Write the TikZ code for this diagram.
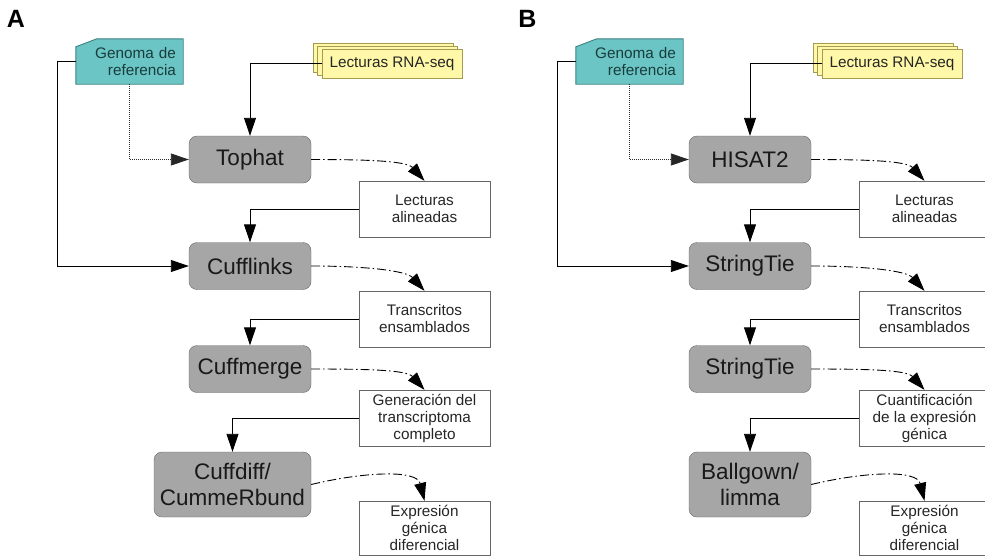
\documentclass[tikz,border=0pt]{standalone}
\usepackage{fontspec}
\setmainfont{Liberation Sans}
\usetikzlibrary{arrows.meta, shadows, backgrounds}
\definecolor{toolfill}{RGB}{166,166,166}
\definecolor{genomefill}{RGB}{108,197,197}
\definecolor{genomeline}{RGB}{60,130,130}
\definecolor{genometext}{RGB}{25,60,60}
\definecolor{readsfill}{RGB}{255,248,168}
\definecolor{readsline}{RGB}{165,155,80}
\begin{document}
\begin{tikzpicture}[
        x=1pt, y=-1pt, % ось y вниз, единица = пиксель
        tip/.style = {-{Triangle[length=18pt, width=12pt]}}, % большая стрелка
        link/.style = {draw, line width=0.9pt, tip}, % сплошные стрелки
        ref/.style = {draw=black!85, line width=0.9pt, dash pattern=on 1pt off 1pt, tip},
        flow/.style = {draw, line width=0.9pt, dash pattern=on 9pt off 3pt on 1.5pt off 3pt, tip},
        tool/.style = {draw=black!60, fill=toolfill, rounded corners=8pt, minimum width=122pt,
                minimum height=47pt, inner sep=0pt, align=center, text=black!90,
                font=\fontsize{22.5}{26}\selectfont}, % программы
        result/.style = {draw=black!60, fill=white, minimum width=131pt, minimum height=56pt,
                inner sep=0pt, align=center, text=black!85, font=\fontsize{15.3}{17}\selectfont},
        genome/.style = {minimum width=107pt, minimum height=45pt, text width=93pt, align=right,
                inner sep=0pt, text=genometext, font=\fontsize{15.3}{17}\selectfont},
        genomebox/.style = {draw=genomeline, fill=genomefill, line width=0.9pt},
        reads/.style = {draw=readsline, fill=readsfill, line width=0.8pt,
                double copy shadow={shadow xshift=-4.5pt, shadow yshift=3pt},
                minimum width=140pt, minimum height=29pt, inner sep=0pt, text=black!85,
                font=\fontsize{15.3}{17}\selectfont},
        panel/.style = {font=\fontsize{25}{25}\bfseries\selectfont},
    ]
    \useasboundingbox (0,0) rectangle (985,557);

    \node[panel] (labA) at (16,19) {A};
    \node[panel] (labB) at (527.5,19) {B};

    % панель A
    \node[genome] (genA) at (129.5,61.5) {Genoma de\\referencia};
    \node[reads] (readsA) at (392,63.5) {Lecturas RNA-seq};
    \node[tool] (tophat) at (250,159.5) {Tophat};
    \node[tool] (cufflinks) at (250,266) {Cufflinks};
    \node[tool] (cuffmerge) at (250,369) {Cuffmerge};
    \node[tool, minimum width=157pt, minimum height=65pt] (cuffdiff) at (232.5,484.5) {Cuffdiff/\\CummeRbund};
    \node[result] (alinA) at (424.5,209) {Lecturas\\alineadas};
    \node[result] (transA) at (424.5,319) {Transcritos\\ensamblados};
    \node[result] (completo) at (424.5,418) {Generación del\\transcriptoma\\completo};
    \node[result, minimum height=54pt] (difA) at (424.5,528) {Expresión\\génica\\diferencial};
    \begin{scope}[on background layer]
        \draw[genomebox] (genA.south west) -- ([yshift=-8pt]genA.north west)
            -- ([xshift=21pt]genA.north west) -- (genA.north east) -- (genA.south east) -- cycle;
    \end{scope}

    \draw[link] (readsA.west) -| (tophat.north);
    \draw[ref] (genA.south) |- (tophat.west);
    \draw[link] (genA.west) -- ++(-18,0) |- (cufflinks.west);
    \draw[link] (alinA.west) -| (cufflinks.north);
    \draw[link] (transA.west) -| (cuffmerge.north);
    \draw[link] (completo.west) -| (cuffdiff.north);
    \draw[flow] (tophat.east) .. controls +(55,0) and +(-18,-20) .. (alinA.north);
    \draw[flow] (cufflinks.east) .. controls +(55,0) and +(-18,-20) .. (transA.north);
    \draw[flow] (cuffmerge.east) .. controls +(55,0) and +(-18,-20) .. (completo.north);
    \draw[flow] (cuffdiff.east) .. controls +(50,-12) and +(-8,-32) .. (difA.north);

    % панель B
    \begin{scope}[xshift=500pt]
        \node[genome] (genB) at (129.5,61.5) {Genoma de\\referencia};
        \node[reads] (readsB) at (392,63.5) {Lecturas RNA-seq};
        \node[tool] (hisat) at (250,159.5) {HISAT2};
        \node[tool] (stieA) at (250,266) {StringTie};
        \node[tool] (stieB) at (250,369) {StringTie};
        \node[tool, minimum height=65pt] (ballgown) at (250,484.5) {Ballgown/\\limma};
        \node[result] (alinB) at (424.5,209) {Lecturas\\alineadas};
        \node[result] (transB) at (424.5,319) {Transcritos\\ensamblados};
        \node[result] (cuant) at (424.5,418) {Cuantificación\\de la expresión\\génica};
        \node[result, minimum height=54pt] (difB) at (424.5,528) {Expresión\\génica\\diferencial};
        \begin{scope}[on background layer]
            \draw[genomebox] (genB.south west) -- ([yshift=-8pt]genB.north west)
                -- ([xshift=21pt]genB.north west) -- (genB.north east) -- (genB.south east) -- cycle;
        \end{scope}

        \draw[link] (readsB.west) -| (hisat.north);
        \draw[ref] (genB.south) |- (hisat.west);
        \draw[link] (genB.west) -- ++(-18,0) |- (stieA.west);
        \draw[link] (alinB.west) -| (stieA.north);
        \draw[link] (transB.west) -| (stieB.north);
        \draw[link] (cuant.west) -| (ballgown.north);
        \draw[flow] (hisat.east) .. controls +(55,0) and +(-18,-20) .. (alinB.north);
        \draw[flow] (stieA.east) .. controls +(55,0) and +(-18,-20) .. (transB.north);
        \draw[flow] (stieB.east) .. controls +(55,0) and +(-18,-20) .. (cuant.north);
        \draw[flow] (ballgown.east) .. controls +(50,-12) and +(-8,-32) .. (difB.north);
    \end{scope}
\end{tikzpicture}
\end{document}
